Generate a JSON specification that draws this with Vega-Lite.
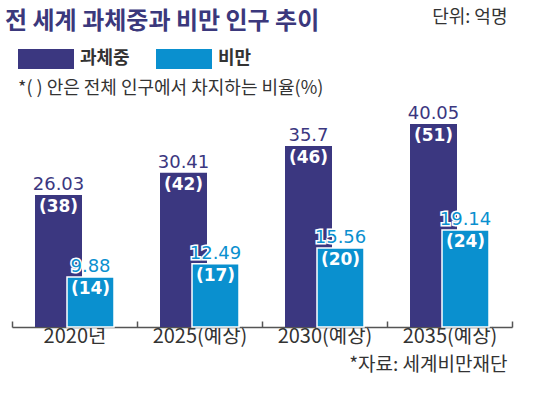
{
  "$schema": "https://vega.github.io/schema/vega-lite/v6.json",
  "width": 500,
  "height": 217,
  "autosize": {"type": "none"},
  "padding": {"left": 12, "top": 110, "right": 38, "bottom": 69},
  "background": "white",
  "config": {"view": {"stroke": null}, "font": "Noto Sans CJK KR"},
  "title": {
    "text": "전 세계 과체중과 비만 인구 추이",
    "anchor": "start",
    "frame": "group",
    "fontSize": 24,
    "fontWeight": "bold",
    "color": "#3b387c",
    "font": "Noto Sans CJK KR",
    "dx": -7,
    "dy": 26,
    "offset": 0
  },
  "data": {
    "values": [
      {"year": "2020년", "type": "과체중", "value": 26.03, "label": "26.03", "pct": "(38)"},
      {"year": "2025(예상)", "type": "과체중", "value": 30.41, "label": "30.41", "pct": "(42)"},
      {"year": "2030(예상)", "type": "과체중", "value": 35.7, "label": "35.7", "pct": "(46)"},
      {"year": "2035(예상)", "type": "과체중", "value": 40.05, "label": "40.05", "pct": "(51)"},
      {"year": "2020년", "type": "비만", "value": 9.88, "label": "9.88", "pct": "(14)"},
      {"year": "2025(예상)", "type": "비만", "value": 12.49, "label": "12.49", "pct": "(17)"},
      {"year": "2030(예상)", "type": "비만", "value": 15.56, "label": "15.56", "pct": "(20)"},
      {"year": "2035(예상)", "type": "비만", "value": 19.14, "label": "19.14", "pct": "(24)"}
    ]
  },
  "encoding": {
    "x": {
      "field": "year",
      "type": "nominal",
      "sort": null,
      "scale": {"paddingInner": 0, "paddingOuter": 0},
      "axis": {
        "title": "*자료: 세계비만재단",
        "labelAngle": 0,
        "labelFontSize": 20,
        "labelColor": "#333",
        "labelPadding": 5,
        "labelFont": "Noto Sans CJK KR",
        "domainColor": "#555",
        "domainWidth": 1.5,
        "tickColor": "#555",
        "tickSize": -6,
        "tickWidth": 1.5,
        "tickBand": "extent",
        "titleAnchor": "end",
        "titleAlign": "right",
        "titleX": 495,
        "titleY": 43,
        "titleBaseline": "alphabetic",
        "titleFontSize": 19,
        "titleFontWeight": "normal",
        "titleColor": "#333",
        "titleFont": "Noto Sans CJK KR"
      }
    },
    "y": {
      "field": "value",
      "type": "quantitative",
      "scale": {"domain": [0, 42.8], "nice": false},
      "axis": {
        "title": "단위: 억명",
        "domain": false,
        "ticks": false,
        "labels": false,
        "grid": false,
        "titleAngle": 0,
        "titleAlign": "right",
        "titleBaseline": "top",
        "titleX": 495,
        "titleY": -102,
        "titleFontSize": 18,
        "titleFontWeight": "normal",
        "titleColor": "#333",
        "titleFont": "Noto Sans CJK KR"
      }
    }
  },
  "layer": [
    {
      "transform": [{"filter": {"field": "type", "equal": "과체중"}}],
      "mark": {"type": "bar", "width": 47, "xOffset": -16},
      "encoding": {
        "color": {
          "field": "type",
          "type": "nominal",
          "scale": {"domain": ["과체중", "비만"], "range": ["#3b3780", "#0a90cf"]},
          "legend": {
            "orient": "none",
            "legendX": 6,
            "legendY": -79,
            "direction": "horizontal",
            "title": "*( ) 안은 전체 인구에서 차지하는 비율(%)",
            "titleOrient": "bottom",
            "titleAnchor": "start",
            "titleFontSize": 18,
            "titleFontWeight": "normal",
            "titleColor": "#333",
            "titleLimit": 600,
            "titlePadding": 11,
            "titleFont": "Noto Sans CJK KR",
            "symbolType": "M-1,-0.357H1V0.357H-1Z",
            "symbolSize": 3136,
            "symbolStrokeWidth": 0,
            "symbolOpacity": 1,
            "labelFontSize": 18,
            "labelFontWeight": "bold",
            "labelColor": "#333",
            "labelOffset": 6,
            "labelFont": "Noto Sans CJK KR",
            "columnPadding": 26
          }
        }
      }
    },
    {
      "transform": [{"filter": {"field": "type", "equal": "비만"}}],
      "mark": {"type": "bar", "width": 47, "xOffset": 16, "stroke": "white", "strokeWidth": 1.5},
      "encoding": {"color": {"field": "type", "type": "nominal"}}
    },
    {
      "transform": [{"filter": {"field": "type", "equal": "과체중"}}],
      "mark": {"type": "text", "dx": -16, "dy": -5, "baseline": "alphabetic", "font": "DejaVu Sans", "fontSize": 18, "color": "#3b3780"},
      "encoding": {"text": {"field": "label"}}
    },
    {
      "transform": [{"filter": {"field": "type", "equal": "비만"}}],
      "mark": {"type": "text", "dx": 16, "dy": -5, "baseline": "alphabetic", "font": "DejaVu Sans", "fontSize": 18, "stroke": "white", "strokeWidth": 3, "fill": "white"},
      "encoding": {"text": {"field": "label"}}
    },
    {
      "transform": [{"filter": {"field": "type", "equal": "비만"}}],
      "mark": {"type": "text", "dx": 16, "dy": -5, "baseline": "alphabetic", "font": "DejaVu Sans", "fontSize": 18, "color": "#0a90cf"},
      "encoding": {"text": {"field": "label"}}
    },
    {
      "transform": [{"filter": {"field": "type", "equal": "과체중"}}],
      "mark": {"type": "text", "dx": -16, "dy": 4, "baseline": "top", "font": "DejaVu Sans", "fontSize": 17, "fontWeight": "bold", "color": "white"},
      "encoding": {"text": {"field": "pct"}}
    },
    {
      "transform": [{"filter": {"field": "type", "equal": "비만"}}],
      "mark": {"type": "text", "dx": 16, "dy": 4, "baseline": "top", "font": "DejaVu Sans", "fontSize": 17, "fontWeight": "bold", "color": "white"},
      "encoding": {"text": {"field": "pct"}}
    }
  ]
}
